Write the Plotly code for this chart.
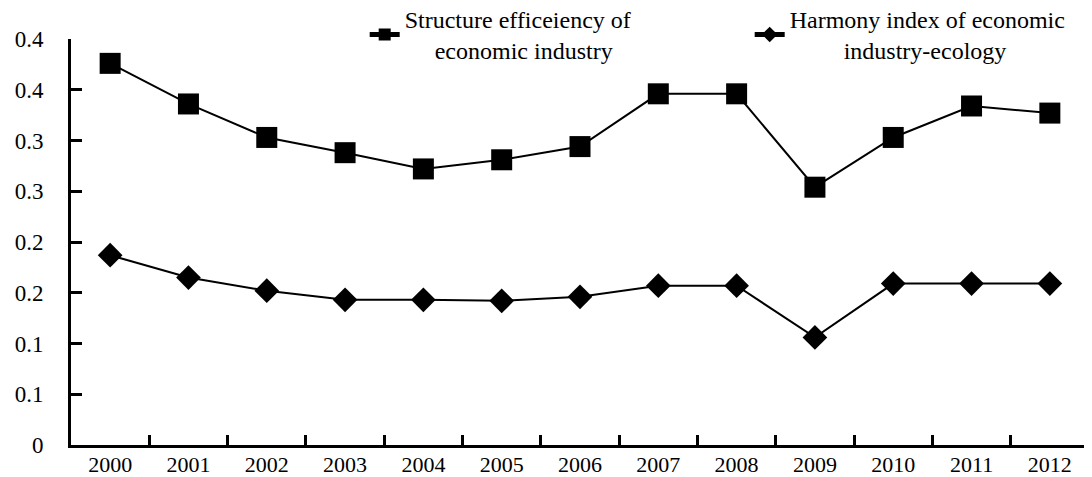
import plotly.graph_objects as go

years = ["2000", "2001", "2002", "2003", "2004", "2005", "2006",
         "2007", "2008", "2009", "2010", "2011", "2012"]
structure_eff = [0.376, 0.336, 0.303, 0.288, 0.272, 0.281, 0.294,
                 0.346, 0.346, 0.254, 0.303, 0.334, 0.327]
harmony_idx = [0.187, 0.165, 0.152, 0.143, 0.143, 0.142, 0.146,
               0.157, 0.157, 0.106, 0.159, 0.159, 0.159]
y_tickvals = [0, 0.05, 0.10, 0.15, 0.20, 0.25, 0.30, 0.35, 0.40]
y_ticktext = ["0", "0.1", "0.1", "0.2", "0.2", "0.3", "0.3", "0.4", "0.4"]

NB = "\u00a0"
name1 = "Structure efficeiency of<br>" + NB * 5 + "economic industry"
name2 = "Harmony index of economic<br>" + NB * 9 + "industry-ecology"

FONT = "Liberation Serif"

fig = go.Figure()
fig.add_trace(go.Scatter(
    x=years, y=structure_eff, name=name1, mode="lines+markers",
    line=dict(color="black", width=2),
    marker=dict(symbol="square", size=21, color="black"),
))
fig.add_trace(go.Scatter(
    x=years, y=harmony_idx, name=name2, mode="lines+markers",
    line=dict(color="black", width=2),
    marker=dict(symbol="diamond", size=19, color="black"),
))

# page body has an 8px margin; the figure is sized/offset to compensate
fig.update_layout(
    width=1084, height=469,
    margin=dict(l=63, r=3, t=31, b=32, autoexpand=False),
    paper_bgcolor="white", plot_bgcolor="white",
    font=dict(family=FONT, color="black", size=22),
    showlegend=True,
    legend=dict(
        orientation="h", x=0.2885, xanchor="left", y=1.104, yanchor="top",
        font=dict(family=FONT, size=24, color="black"),
        bgcolor="rgba(0,0,0,0)", tracegroupgap=0,
        itemsizing="constant", entrywidth=340, entrywidthmode="pixels",
    ),
)
fig.update_xaxes(
    type="category", range=[-0.5, 12.5],
    showline=True, linecolor="black", linewidth=3,
    ticks="inside", ticklen=10, tickwidth=2.5, tickcolor="black",
    tickson="boundaries", showgrid=False, zeroline=False,
    ticklabelstandoff=-2,
    tickfont=dict(family=FONT, size=22, color="black"),
)
fig.update_yaxes(
    range=[0, 0.4], tickvals=y_tickvals, ticktext=y_ticktext,
    showline=True, linecolor="black", linewidth=3,
    ticks="inside", ticklen=11, tickwidth=2.5, tickcolor="black",
    showgrid=False, zeroline=False, ticklabelstandoff=20,
    tickfont=dict(family=FONT, size=23, color="black"),
)

fig.write_html("out.html")
